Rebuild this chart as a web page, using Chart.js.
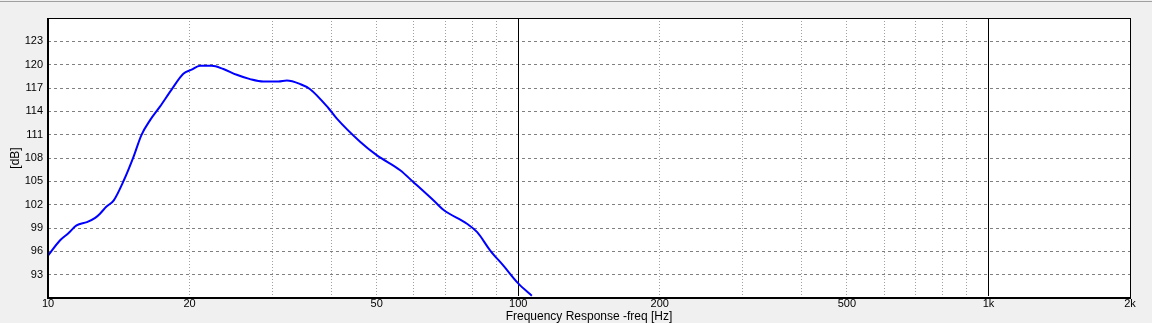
<!DOCTYPE html>
<html>
<head>
<meta charset="utf-8">
<title>Frequency Response</title>
<script src="https://cdn.jsdelivr.net/npm/chart.js@4/dist/chart.umd.min.js"></script>
<style>
    html, body { margin: 0; padding: 0; background: #f0f0f0; }
    #chart-canvas { display: block; }
</style>
</head>
<body>
<canvas id="chart-canvas" width="1152" height="323"></canvas>
<script>
// measured response, frequency in Hz and level in dB
const freq_values = [10, 10.6, 11.05, 11.5, 12.1, 12.6, 12.9, 13.3, 13.8, 14.5, 15.2, 15.8, 16.5, 17.3, 18.3, 19.4, 20.2, 21.05, 22.3, 23.6, 25.2, 26.9, 28.7, 30.9, 32.2, 34.4, 36.1, 39.5, 41.1, 46.1, 50, 56.1, 59.8, 66.6, 69.3, 77.8, 81.8, 87.2, 93, 100, 106.9];
const db_values = [95.45, 97.4, 98.33, 99.33, 99.75, 100.3, 100.84, 101.73, 102.56, 105.14, 108.15, 110.95, 112.9, 114.6, 116.76, 118.83, 119.35, 119.86, 119.86, 119.44, 118.7, 118.14, 117.83, 117.83, 117.96, 117.5, 116.85, 114.4, 113.1, 110.1, 108.37, 106.43, 104.92, 102.34, 101.35, 99.55, 98.46, 96.1, 94.16, 91.88, 90.3];

// axis ticks
const x_grid_values = [10, 20, 30, 40, 50, 60, 70, 80, 90, 100, 200, 300, 400, 500, 600, 700, 800, 900, 1000, 2000];
const x_label_values = [10, 20, 50, 100, 200, 500, 1000, 2000];
const x_label_texts = ['10', '20', '50', '100', '200', '500', '1k', '2k'];
const x_decade_lines = [100, 1000];
const y_tick_values = [93, 96, 99, 102, 105, 108, 111, 114, 117, 120, 123];

const font_family = "'Liberation Sans', Arial, sans-serif";

// background, frame and decade lines
const frame_plugin = {
    id: 'frame',
    beforeDraw(chart) {
        let ctx = chart.ctx;
        let area = chart.chartArea;
        ctx.save();
        ctx.fillStyle = '#f0f0f0';
        ctx.fillRect(0, 0, chart.width, chart.height);
        ctx.fillStyle = '#a0a0a0';
        ctx.fillRect(0, 1, chart.width, 1);
        ctx.fillStyle = '#ffffff';
        ctx.fillRect(area.left, area.top, area.right - area.left, area.bottom - area.top);
        ctx.restore();
    },
    beforeDatasetsDraw(chart) {
        let ctx = chart.ctx;
        let area = chart.chartArea;
        let x = chart.scales.x;
        ctx.save();
        ctx.fillStyle = '#000000';
        for (let i = 0; i < x_decade_lines.length; i++) {
            let px = Math.round(x.getPixelForValue(x_decade_lines[i]));
            ctx.fillRect(px, area.top, 1, area.bottom - area.top - 2);
        }
        ctx.restore();
    },
    afterDatasetsDraw(chart) {
        let ctx = chart.ctx;
        let area = chart.chartArea;
        ctx.save();
        ctx.fillStyle = '#000000';
        ctx.fillRect(area.left, area.top, area.right - area.left + 1, 1);
        ctx.fillRect(area.right, area.top, 1, area.bottom - area.top);
        ctx.fillRect(area.left - 1, area.top, 2, area.bottom - area.top + 1);
        ctx.fillRect(area.left - 1, area.bottom - 1, area.right - area.left + 2, 2);
        ctx.restore();
    }
};

let points = [];
for (let i = 0; i < freq_values.length; i++) {
    points.push({x: freq_values[i], y: db_values[i]});
}

Chart.defaults.color = '#000000';
Chart.defaults.font.family = font_family;

let chart = new Chart(document.getElementById('chart-canvas'), {
    type: 'line',
    data: {
        datasets: [{
            data: points,
            borderColor: '#0000ff',
            borderWidth: 2,
            pointRadius: 0,
            cubicInterpolationMode: 'monotone',
            fill: false
        }]
    },
    options: {
        responsive: false,
        devicePixelRatio: 1,
        animation: false,
        layout: {
            padding: {left: 0, top: 18, right: 22, bottom: 0}
        },
        plugins: {
            legend: {display: false},
            tooltip: {enabled: false}
        },
        scales: {
            x: {
                type: 'logarithmic',
                min: 10,
                max: 2000,
                afterBuildTicks(scale) {
                    scale.ticks = x_grid_values.map(v => ({value: v}));
                },
                afterFit(scale) {
                    scale.height = 25;
                },
                ticks: {
                    autoSkip: false,
                    maxRotation: 0,
                    minRotation: 0,
                    padding: 0,
                    font: {size: 11, lineHeight: 1},
                    callback(value) {
                        let i = x_label_values.indexOf(value);
                        return i >= 0 ? x_label_texts[i] : '';
                    }
                },
                grid: {
                    drawTicks: false,
                    lineWidth: 1,
                    color(ctx) {
                        let v = ctx.tick ? ctx.tick.value : 0;
                        if (v === 10 || v === 2000 || x_decade_lines.indexOf(v) >= 0) return 'rgba(0,0,0,0)';
                        return '#a0a0a0';
                    }
                },
                border: {display: false, dash: [1, 2]},
                title: {
                    display: true,
                    text: 'Frequency Response -freq [Hz]',
                    font: {size: 12, lineHeight: 1},
                    padding: {top: 0, bottom: 0}
                }
            },
            y: {
                type: 'linear',
                min: 90,
                max: 126,
                afterBuildTicks(scale) {
                    scale.ticks = y_tick_values.map(v => ({value: v}));
                },
                afterFit(scale) {
                    scale.width = 48;
                },
                ticks: {
                    padding: 5,
                    font: {size: 11},
                    callback(value) {
                        return String(value);
                    }
                },
                grid: {
                    drawTicks: false,
                    lineWidth: 1,
                    color: '#808080'
                },
                border: {display: false, dash: [3, 3]},
                title: {
                    display: true,
                    text: '[dB]',
                    font: {size: 12},
                    padding: {top: 8, bottom: 0}
                }
            }
        }
    },
    plugins: [frame_plugin]
});
</script>
</body>
</html>
